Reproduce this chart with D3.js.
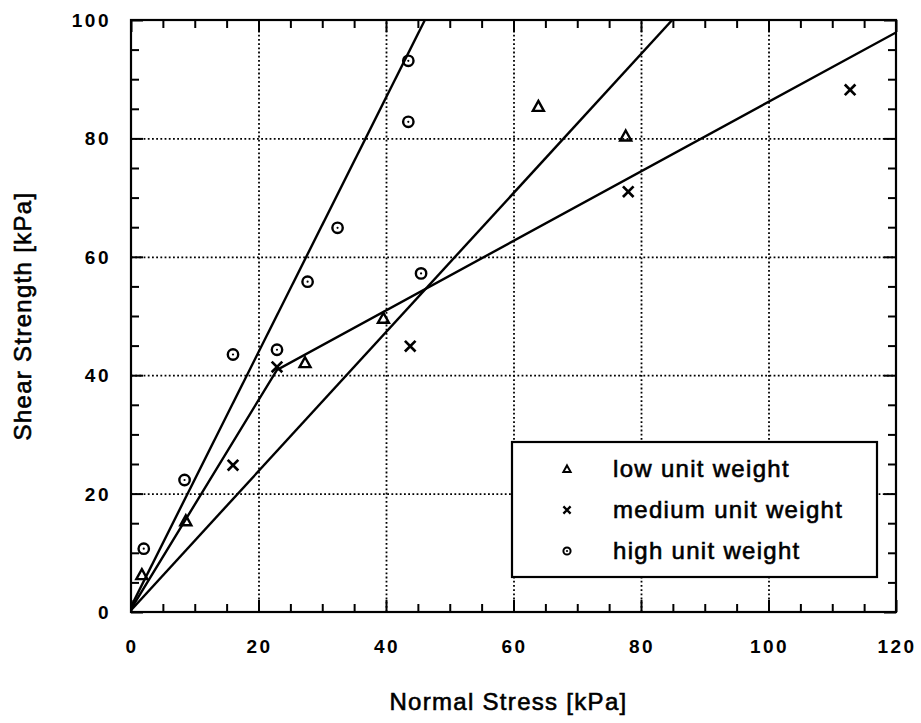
<!DOCTYPE html>
<html>
<head>
<meta charset="utf-8">
<script src="https://cdn.jsdelivr.net/npm/d3@7"></script>
<style>
  body { margin: 0; background: #fff; }
  text { font-family: "Liberation Sans", Arial, sans-serif; fill: #000; }
</style>
</head>
<body>
<svg width="921" height="723"></svg>
<script>
var width = 921;
var height = 723;
var margin = { top: 20, right: 25, bottom: 111, left: 131 };

// measured points (normal stress, shear strength) in kPa
var lowX = [1.7, 8.6, 27.3, 39.6, 63.9, 77.6];
var lowY = [6.3, 15.4, 42.1, 49.6, 85.4, 80.4];
var medX = [16.0, 22.9, 43.8, 78.0, 112.8];
var medY = [24.8, 41.4, 44.9, 71.0, 88.2];
var highX = [2.0, 8.4, 16.0, 22.9, 27.7, 32.4, 43.5, 43.5, 45.5];
var highY = [10.7, 22.3, 43.5, 44.3, 55.8, 64.9, 93.1, 82.8, 57.2];

// fitted envelopes
var steepX = [0, 46.1];
var steepY = [0.9, 100];
var bilinX = [0, 22.9, 120];
var bilinY = [0.5, 40.9, 97.9];
var flatX = [0, 84.9];
var flatY = [0.3, 100];

var xTicks = [0, 20, 40, 60, 80, 100, 120];
var yTicks = [0, 20, 40, 60, 80, 100];
var legendLabels = ['low unit weight', 'medium unit weight', 'high unit weight'];

var pw = width - margin.left - margin.right;
var ph = height - margin.top - margin.bottom;

var svg = d3.select('svg');
var g = svg.append('g').attr('transform', 'translate(' + [margin.left, margin.top] + ')');

var x = d3.scaleLinear().domain([0, 120]).range([0, pw]);
var y = d3.scaleLinear().domain([0, 100]).range([ph, 0]);

// dotted grid ------------------------------------------------------------
g.append('g')
  .attr('transform', 'translate(0,' + ph + ')')
  .call(d3.axisBottom(x).tickValues([20, 40, 60, 80, 100]).tickSize(-ph).tickFormat(''))
  .call(a => a.select('.domain').remove());
g.append('g')
  .call(d3.axisLeft(y).tickValues([20, 40, 60, 80]).tickSize(-pw).tickFormat(''))
  .call(a => a.select('.domain').remove());
g.selectAll('.tick line')
  .attr('stroke', '#000')
  .attr('stroke-width', 1.8)
  .attr('stroke-dasharray', '1.8,2.4');

// ticks on all four sides, pointing inward
var minorX = d3.range(0, 121, 5).filter(v => v % 20);
var minorY = d3.range(0, 101, 5).filter(v => v % 20);

function ticks(axis, vals, size, tr) {
  var t = g.append('g').attr('class', 'ticks').attr('transform', tr)
    .call(axis.tickValues(vals).tickSize(size).tickFormat(''));
  t.select('.domain').remove();
  t.selectAll('line').attr('stroke', '#000').attr('stroke-width', 2);
}
ticks(d3.axisBottom(x), minorX, -8, 'translate(0,' + ph + ')');
ticks(d3.axisBottom(x), xTicks, -12, 'translate(0,' + ph + ')');
ticks(d3.axisTop(x), minorX, -8, 'translate(0,0)');
ticks(d3.axisTop(x), xTicks, -12, 'translate(0,0)');
ticks(d3.axisLeft(y), minorY, -8, 'translate(0,0)');
ticks(d3.axisLeft(y), yTicks, -12, 'translate(0,0)');
ticks(d3.axisRight(y), minorY, -8, 'translate(' + pw + ',0)');
ticks(d3.axisRight(y), yTicks, -12, 'translate(' + pw + ',0)');

// tick labels
g.append('g').selectAll('text').data(xTicks).enter().append('text')
  .attr('x', d => x(d) + 1)
  .attr('y', ph + 41)
  .attr('text-anchor', 'middle')
  .attr('font-size', 19)
  .attr('font-weight', 'bold')
  .attr('letter-spacing', 2.5)
  .text(d => d);
g.append('g').selectAll('text').data(yTicks).enter().append('text')
  .attr('x', -20)
  .attr('y', d => y(d) + 7)
  .attr('text-anchor', 'end')
  .attr('font-size', 19)
  .attr('font-weight', 'bold')
  .attr('letter-spacing', 2.5)
  .text(d => d);

// frame
g.append('rect')
  .attr('width', pw).attr('height', ph)
  .attr('fill', 'none').attr('stroke', '#000').attr('stroke-width', 2.2);

// fit lines
svg.append('clipPath').attr('id', 'clip')
  .append('rect').attr('width', pw).attr('height', ph);
var line = d3.line().x(d => x(d[0])).y(d => y(d[1]));
var fits = [d3.zip(steepX, steepY), d3.zip(bilinX, bilinY), d3.zip(flatX, flatY)];
g.append('g').attr('clip-path', 'url(#clip)').selectAll('path').data(fits).enter().append('path')
  .attr('d', line)
  .attr('fill', 'none')
  .attr('stroke', '#000')
  .attr('stroke-width', 2.4);

// markers
function marker(sel, type, s, w) {
  if (type === 'tri') {
    sel.append('path')
      .attr('d', 'M0,' + (-s) + 'L' + s + ',' + (s * 0.8) + 'L' + (-s) + ',' + (s * 0.8) + 'Z')
      .attr('fill', 'none').attr('stroke', '#000').attr('stroke-width', w);
  } else if (type === 'x') {
    sel.append('path')
      .attr('d', 'M' + (-s) + ',' + (-s) + 'L' + s + ',' + s + 'M' + s + ',' + (-s) + 'L' + (-s) + ',' + s)
      .attr('fill', 'none').attr('stroke', '#000').attr('stroke-width', w + 0.3);
  } else {
    sel.append('circle').attr('r', s).attr('fill', 'none').attr('stroke', '#000').attr('stroke-width', w);
    sel.append('circle').attr('r', 1.1).attr('fill', '#000');
  }
}
var series = [
  { type: 'tri', pts: d3.zip(lowX, lowY), s: 5.5 },
  { type: 'x', pts: d3.zip(medX, medY), s: 5.3 },
  { type: 'o', pts: d3.zip(highX, highY), s: 5.2 }
];
series.forEach(sr => {
  g.append('g').selectAll('g').data(sr.pts).enter().append('g')
    .attr('transform', d => 'translate(' + [x(d[0]), y(d[1])] + ')')
    .each(function () { marker(d3.select(this), sr.type, sr.s, 2.4); });
});

// axis titles
svg.append('text')
  .attr('x', margin.left + pw / 2 - 5)
  .attr('y', 710)
  .attr('text-anchor', 'middle')
  .attr('font-size', 24)
  .attr('letter-spacing', 1.3)
  .attr('stroke', '#000').attr('stroke-width', 0.6)
  .text('Normal Stress [kPa]');
svg.append('text')
  .attr('transform', 'translate(31,' + (margin.top + ph / 2) + ') rotate(-90)')
  .attr('text-anchor', 'middle')
  .attr('font-size', 24)
  .attr('letter-spacing', 1.3)
  .attr('stroke', '#000').attr('stroke-width', 0.6)
  .text('Shear Strength [kPa]');

// legend
var lg = svg.append('g').attr('transform', 'translate(512,442)');
lg.append('rect')
  .attr('width', 365).attr('height', 135)
  .attr('fill', '#fff').attr('stroke', '#000').attr('stroke-width', 2.2);
var rows = lg.selectAll('g').data(legendLabels).enter().append('g')
  .attr('transform', (d, i) => 'translate(0,' + (27 + i * 41) + ')');
rows.each(function (d, i) {
  var m = d3.select(this).append('g').attr('transform', 'translate(55,0)');
  marker(m, series[i].type, 3.6, 2);
});
rows.append('text')
  .attr('x', 101)
  .attr('y', 8)
  .attr('font-size', 24)
  .attr('letter-spacing', 1.3)
  .attr('stroke', '#000').attr('stroke-width', 0.6)
  .text(d => d);
</script>
</body>
</html>
